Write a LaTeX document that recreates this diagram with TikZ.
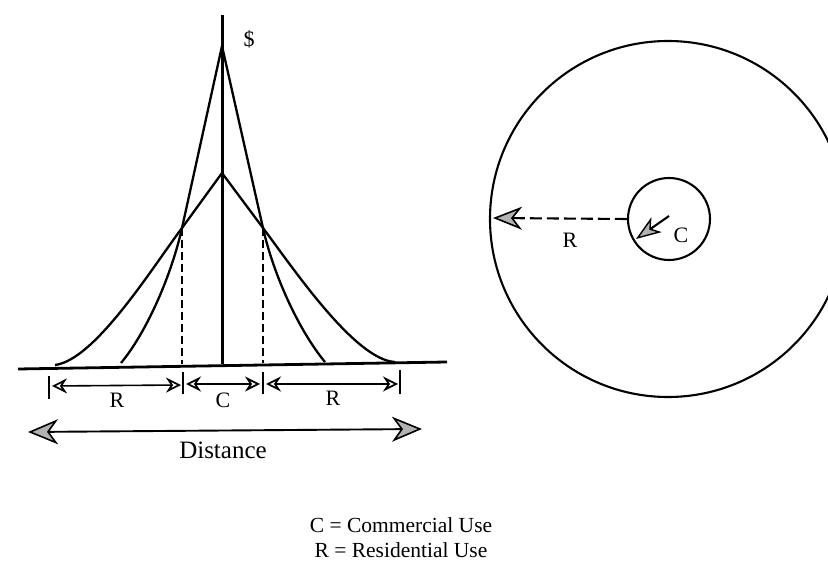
\documentclass[tikz,border=0pt]{standalone}
\usepackage{fontspec}
\setmainfont{Liberation Serif}
\usetikzlibrary{arrows.meta}
\begin{document}
\begin{tikzpicture}[x=1pt,y=-1pt,
  curve/.style={line width=2.3pt, line join=round},
  axisline/.style={line width=3pt},
  dimtick/.style={line width=2.5pt},
  dimarrow/.style={line width=1.6pt, {Stealth[open,length=15pt,width=15pt,inset=5pt,line width=1.7pt]}-{Stealth[open,length=15pt,width=15pt,inset=5pt,line width=1.7pt]}},
  bigarrow/.style={line width=1.9pt, {Stealth[length=30pt,width=25pt,inset=9pt,fill=gray!60,line width=1.6pt]}-{Stealth[length=30pt,width=25pt,inset=9pt,fill=gray!60,line width=1.6pt]}},
  radarrow/.style={line width=2.1pt, dash pattern=on 12pt off 5pt, -{Stealth[length=29pt,width=23pt,inset=9pt,fill=gray!60,line width=1.6pt]}},
  smallarrow/.style={line width=2.1pt, -{Stealth[length=25pt,width=18pt,inset=7pt,fill=gray!60,line width=1.4pt]}},
  vdash/.style={line width=2.2pt, dash pattern=on 8pt off 4pt},
  lbl/.style={font=\fontsize{22}{24}\selectfont, inner sep=0pt},
  circ/.style={line width=2.1pt}
]
\useasboundingbox (0,0) rectangle (828,561);
\clip (0,0) rectangle (828,561);

% ---------- left diagram ----------
\coordinate (axtop) at (222,15);
\coordinate (axbot) at (222,364);
\coordinate (steeppk) at (222,46);
\coordinate (flatpk) at (222,173);
\coordinate (il) at (182,228);
\coordinate (ir) at (263,228);
\coordinate (sl) at (121,363);
\coordinate (sr) at (325,362);
\coordinate (fl) at (55,365);
\coordinate (fr) at (395,362);
\coordinate (bl) at (18,369);
\coordinate (br) at (447,362);
\coordinate (dl) at (182,364);
\coordinate (dr) at (263,363);

% baseline
\draw[line width=2.8pt] (bl) -- (br);
% axis
\draw[axisline] (axtop) -- (axbot);
\node[lbl] (dollar) at (249,39) {\$};

% steep curve
\draw[curve] (sl) .. controls (146,333) and (171,277) .. (il) -- (steeppk)
  -- (ir) .. controls (274,277) and (300,332) .. (sr);
% flat curve
\draw[curve] (fl) .. controls (95,360) and (152,268) .. (il) -- (flatpk)
  -- (ir) .. controls (293,268) and (355,360) .. (fr);

% dashed verticals
\draw[vdash] (il) -- (dl);
\draw[vdash] (ir) -- (dr);

% dimension ticks
\coordinate (t1a) at (49,376); \coordinate (t1b) at (49,399);
\coordinate (t2a) at (183,372); \coordinate (t2b) at (183,394);
\coordinate (t3a) at (263,372); \coordinate (t3b) at (263,394);
\coordinate (t4a) at (400,370); \coordinate (t4b) at (400,394);
\draw[dimtick] (t1a) -- (t1b);
\draw[dimtick] (t2a) -- (t2b);
\draw[dimtick] (t3a) -- (t3b);
\draw[dimtick] (t4a) -- (t4b);

\coordinate (a1) at (52,386); \coordinate (a2) at (181,385);
\coordinate (a3) at (186,384); \coordinate (a4) at (260,384);
\coordinate (a5) at (266,384); \coordinate (a6) at (398,384);
\draw[dimarrow] (a1) -- (a2);
\draw[dimarrow] (a3) -- (a4);
\draw[dimarrow] (a5) -- (a6);

\node[lbl, anchor=base] (rl) at (117,408) {R};
\node[lbl, anchor=base] (cc) at (223,408) {C};
\node[lbl, anchor=base] (rr) at (333,406) {R};

% distance arrow
\coordinate (disl) at (28,432);
\coordinate (disr) at (422,429);
\draw[bigarrow] (disl) -- (disr);
\node[font=\fontsize{25}{28}\selectfont, inner sep=0pt, anchor=base] (dist) at (223,458) {Distance};

% ---------- right diagram ----------
\coordinate (ctr) at (668,219);
\draw[circ] (ctr) circle[radius=178];
\node[circ, draw, circle, minimum size=82pt, inner sep=0pt] (inner) at (669,219) {};
\coordinate (rtip) at (493,218);
\draw[radarrow] (inner.west) -- (rtip);
\node[lbl, anchor=base] (rlab) at (570,248) {R};
\coordinate (ctail) at (669,216);
\coordinate (ctip) at (636,239);
\draw[smallarrow] (ctail) -- (ctip);
\node[lbl, anchor=base] (clab) at (681,243) {C};

% ---------- legend ----------
\node[font=\fontsize{21.5}{23}\selectfont, inner sep=0pt, anchor=base] (leg1) at (401,532) {C = Commercial Use};
\node[font=\fontsize{21.5}{23}\selectfont, inner sep=0pt, anchor=base] (leg2) at (401,557) {R = Residential Use};
\end{tikzpicture}
\end{document}
